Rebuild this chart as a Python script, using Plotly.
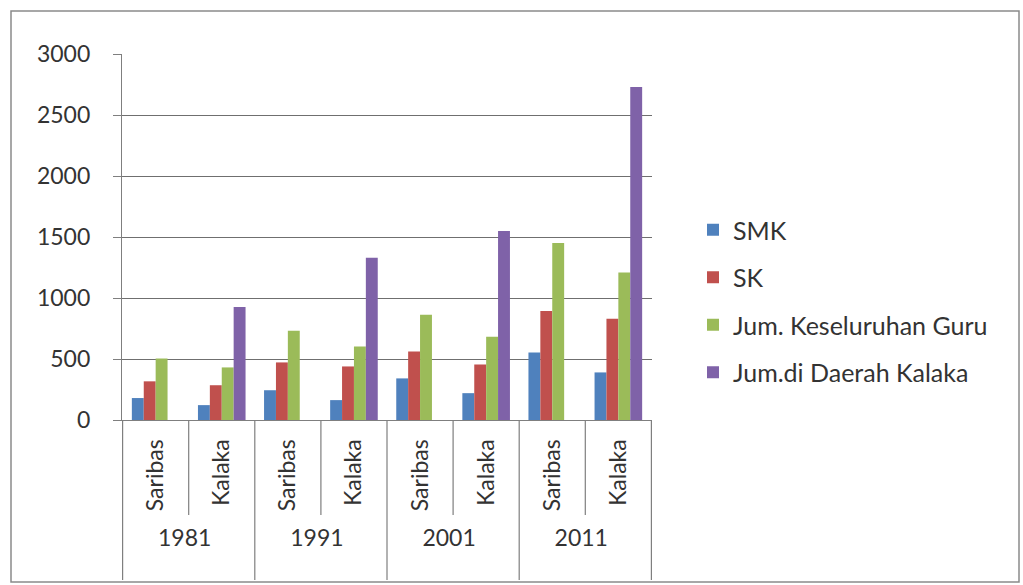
import plotly.graph_objects as go

years = ["1981", "1981", "1991", "1991", "2001", "2001", "2011", "2011"]
places = ["Saribas", "Kalaka", "Saribas", "Kalaka", "Saribas", "Kalaka", "Saribas", "Kalaka"]

series_names = ["SMK", "SK", "Jum. Keseluruhan Guru", "Jum.di Daerah Kalaka"]
smk = [180, 122, 244, 163, 341, 220, 553, 390]
sk = [317, 285, 472, 439, 561, 455, 894, 829]
jum_guru = [504, 431, 732, 602, 862, 683, 1451, 1210]
jum_daerah = [None, 927, None, 1330, None, 1550, None, 2730]

colors = ["#4F81BD", "#C0504D", "#9BBB59", "#7F62A8"]
y_ticks = [0, 500, 1000, 1500, 2000, 2500, 3000]

FONT = "Lato"
FS = 23
L, R, T, B = 122, 652, 54, 420
W_PLOT = R - L
H_PLOT = B - T

def px_x(x):
    return (x - L) / W_PLOT

def px_y(y):
    return (B - y) / H_PLOT

fig = go.Figure()
for name, vals, col in zip(series_names, [smk, sk, jum_guru, jum_daerah], colors):
    fig.add_trace(go.Bar(x=[years, places], y=vals, name=name, legendgroup=name,
                         marker=dict(color=col, line=dict(width=0))))

shapes = []
shapes.append(dict(type="rect", xref="paper", yref="paper",
                   x0=px_x(11), x1=px_x(1019), y0=px_y(582), y1=px_y(11),
                   line=dict(color="#8a8a8a", width=1.5), fillcolor="rgba(0,0,0,0)"))
for xpos in [-0.5, 1.5, 3.5, 5.5, 7.5]:
    shapes.append(dict(type="line", xref="x", yref="paper", x0=xpos, x1=xpos,
                       y0=0, y1=px_y(580), line=dict(color="#7f7f7f", width=1.2)))
for xpos in [0.5, 2.5, 4.5, 6.5]:
    shapes.append(dict(type="line", xref="x", yref="paper", x0=xpos, x1=xpos,
                       y0=0, y1=px_y(515), line=dict(color="#7f7f7f", width=1.2)))

fig.update_layout(
    width=1023, height=585,
    margin=dict(l=L, r=1023 - R, t=T, b=585 - B, autoexpand=False),
    paper_bgcolor="white", plot_bgcolor="white",
    font=dict(family=FONT, size=FS, color="#333333"),
    barmode="group", bargap=0.28, bargroupgap=0.0,
    showlegend=True,
    legend=dict(x=px_x(693), y=px_y(207), xanchor="left", yanchor="top",
                font=dict(family=FONT, size=25, color="#333333"),
                traceorder="grouped", tracegroupgap=12,
                itemwidth=30, bgcolor="rgba(0,0,0,0)"),
    shapes=shapes,
)
fig.update_xaxes(type="multicategory", showdividers=False, tickangle=-90,
                 showline=True, linecolor="#7f7f7f", linewidth=1.2,
                 tickfont=dict(family=FONT, size=FS, color="#333333"),
                 ticks="", ticklabelstandoff=9)
fig.update_yaxes(range=[0, 3000], tickvals=y_ticks, showgrid=True, gridcolor="#6f6f6f", gridwidth=1.2,
                 showline=True, linecolor="#7f7f7f", linewidth=1.2, ticks="outside", ticklen=8,
                 tickcolor="#7f7f7f", ticklabelstandoff=18, zeroline=False,
                 tickfont=dict(family=FONT, size=FS, color="#333333"))
fig.write_html("out.html", config={"displayModeBar": False},
               post_script="document.body.style.margin='0';")
